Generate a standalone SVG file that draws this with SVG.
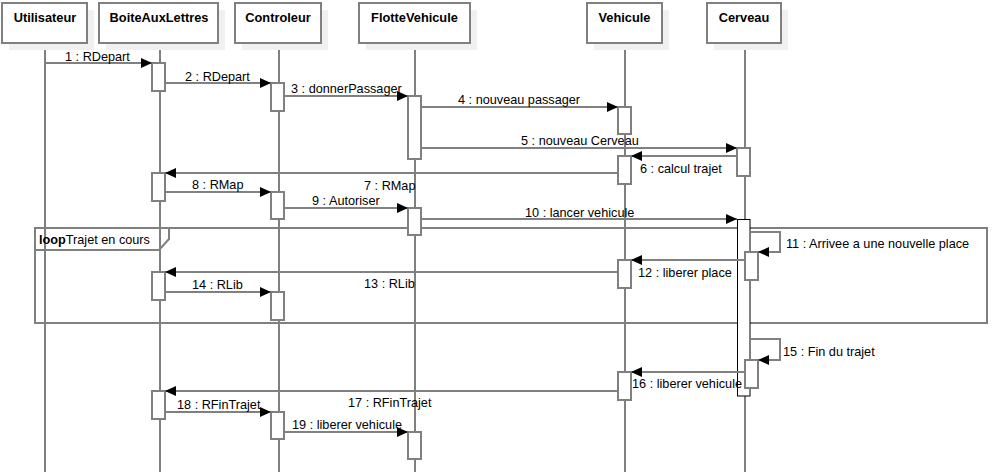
<svg xmlns="http://www.w3.org/2000/svg" width="993" height="472" viewBox="0 0 993 472">
<defs>
<marker id="arr" viewBox="0 0 11 10" refX="11" refY="5" markerWidth="11" markerHeight="10" orient="auto" markerUnits="userSpaceOnUse">
<path d="M0,0 L11,5 L0,10 z" fill="#000"/>
</marker>
</defs>
<style>
.hdr{fill:#fff;stroke:#808080;stroke-width:2}
.sh{fill:#f0f0f0}
.ht{font-family:"Liberation Sans",Arial,sans-serif;font-weight:bold;font-size:12.8px;text-anchor:middle;fill:#000}
.lt{font-family:"Liberation Sans",Arial,sans-serif;font-size:12.7px;fill:#000}
.llb{stroke:#000;stroke-width:1}
.llg{stroke:#808080;stroke-width:2}
.act{fill:#fff;stroke:#808080;stroke-width:2}
.actb{fill:#fff;stroke:#000;stroke-width:1}
.msg{fill:none;stroke:#808080;stroke-width:2;marker-end:url(#arr)}
.frame{fill:none;stroke:#808080;stroke-width:2}
</style>
<rect width="993" height="472" fill="#fff"/>

<g id="lifelines">
<line class="llb" x1="45" y1="43" x2="45" y2="472"/>
<line class="llg" x1="160" y1="43" x2="160" y2="472"/>
<line class="llg" x1="279" y1="43" x2="279" y2="472"/>
<line class="llb" x1="415" y1="43" x2="415" y2="472"/>
<line class="llb" x1="625" y1="43" x2="625" y2="472"/>
<line class="llg" x1="745" y1="43" x2="745" y2="472"/>
</g>

<g id="node-Utilisateur">
<rect class="sh" x="9" y="10" width="85" height="40"/>
<rect class="hdr" x="2" y="3" width="85" height="40"/>
<text class="ht" x="45" y="22">Utilisateur</text>
</g>
<g id="node-BoiteAuxLettres">
<rect class="sh" x="106" y="10" width="119" height="40"/>
<rect class="hdr" x="99" y="3" width="119" height="40"/>
<text class="ht" x="159" y="22">BoiteAuxLettres</text>
</g>
<g id="node-Controleur">
<rect class="sh" x="242" y="10" width="86" height="40"/>
<rect class="hdr" x="235" y="3" width="86" height="40"/>
<text class="ht" x="278" y="22">Controleur</text>
</g>
<g id="node-FlotteVehicule">
<rect class="sh" x="366" y="10" width="111" height="40"/>
<rect class="hdr" x="359" y="3" width="111" height="40"/>
<text class="ht" x="414.5" y="22">FlotteVehicule</text>
</g>
<g id="node-Vehicule">
<rect class="sh" x="594" y="10" width="75" height="40"/>
<rect class="hdr" x="587" y="3" width="75" height="40"/>
<text class="ht" x="624.5" y="22">Vehicule</text>
</g>
<g id="node-Cerveau">
<rect class="sh" x="714" y="10" width="74" height="40"/>
<rect class="hdr" x="707" y="3" width="74" height="40"/>
<text class="ht" x="744" y="22">Cerveau</text>
</g>

<g id="loop-frame">
<rect class="frame" x="35" y="228" width="952" height="95"/>
<path class="frame" d="M35,250 L159,250 L169,239 L169,228"/>
<text class="lt" x="39" y="244"><tspan font-weight="bold">loop</tspan>Trajet en cours</text>
</g>

<g id="activations">
<rect class="act" x="152" y="63" width="13" height="28"/>
<rect class="act" x="271" y="83" width="13" height="28"/>
<rect class="act" x="408" y="96" width="13" height="63"/>
<rect class="act" x="618" y="107" width="13" height="27"/>
<rect class="act" x="737" y="148" width="13" height="28"/>
<rect class="act" x="618" y="156" width="13" height="28"/>
<rect class="act" x="152" y="173" width="13" height="28"/>
<rect class="act" x="271" y="192" width="13" height="27"/>
<rect class="act" x="408" y="208" width="13" height="27"/>
<rect class="actb" x="737.5" y="219.5" width="12.5" height="176.5"/>
<rect class="act" x="745" y="252" width="13" height="28"/>
<rect class="act" x="618" y="260" width="13" height="28"/>
<rect class="act" x="152" y="272" width="13" height="28"/>
<rect class="act" x="271" y="292" width="13" height="28"/>
<rect class="act" x="745" y="360" width="13" height="28"/>
<rect class="act" x="618" y="372" width="13" height="28"/>
<rect class="act" x="152" y="391" width="13" height="28"/>
<rect class="act" x="271" y="412" width="13" height="27"/>
<rect class="act" x="408" y="432" width="13" height="27"/>
</g>

<g id="connectors">
<line class="msg" x1="45" y1="63" x2="152" y2="63"/>
<line class="msg" x1="165" y1="83" x2="271" y2="83"/>
<line class="msg" x1="284" y1="96" x2="408" y2="96"/>
<line class="msg" x1="421" y1="107" x2="618" y2="107"/>
<line class="msg" x1="421" y1="148" x2="737" y2="148"/>
<line class="msg" x1="737" y1="156" x2="631" y2="156"/>
<line class="msg" x1="618" y1="173" x2="165" y2="173"/>
<line class="msg" x1="165" y1="192" x2="271" y2="192"/>
<line class="msg" x1="284" y1="208" x2="408" y2="208"/>
<line class="msg" x1="421" y1="219" x2="737" y2="219"/>
<path class="msg" d="M750,232 H780 V252 H758"/>
<line class="msg" x1="745" y1="260" x2="631" y2="260"/>
<line class="msg" x1="618" y1="272" x2="165" y2="272"/>
<line class="msg" x1="165" y1="292" x2="271" y2="292"/>
<path class="msg" d="M750,339 H780 V360 H758"/>
<line class="msg" x1="745" y1="372" x2="631" y2="372"/>
<line class="msg" x1="618" y1="391" x2="165" y2="391"/>
<line class="msg" x1="165" y1="412" x2="271" y2="412"/>
<line class="msg" x1="284" y1="432" x2="408" y2="432"/>
</g>

<g id="labels">
<text class="lt" x="65" y="61">1 : RDepart</text>
<text class="lt" x="185" y="81">2 : RDepart</text>
<text class="lt" x="291" y="93">3 : donnerPassager</text>
<text class="lt" x="458" y="104">4 : nouveau passager</text>
<text class="lt" x="521" y="145">5 : nouveau Cerveau</text>
<text class="lt" x="640" y="173">6 : calcul trajet</text>
<text class="lt" x="364" y="190">7 : RMap</text>
<text class="lt" x="192" y="189">8 : RMap</text>
<text class="lt" x="312" y="205">9 : Autoriser</text>
<text class="lt" x="525" y="217">10 : lancer vehicule</text>
<text class="lt" x="786" y="248">11 : Arrivee a une nouvelle place</text>
<text class="lt" x="638" y="277">12 : liberer place</text>
<text class="lt" x="364" y="288">13 : RLib</text>
<text class="lt" x="192" y="289">14 : RLib</text>
<text class="lt" x="783" y="356">15 : Fin du trajet</text>
<text class="lt" x="632" y="388">16 : liberer vehicule</text>
<text class="lt" x="348" y="407">17 : RFinTrajet</text>
<text class="lt" x="177" y="409">18 : RFinTrajet</text>
<text class="lt" x="292" y="429">19 : liberer vehicule</text>
</g>
</svg>
